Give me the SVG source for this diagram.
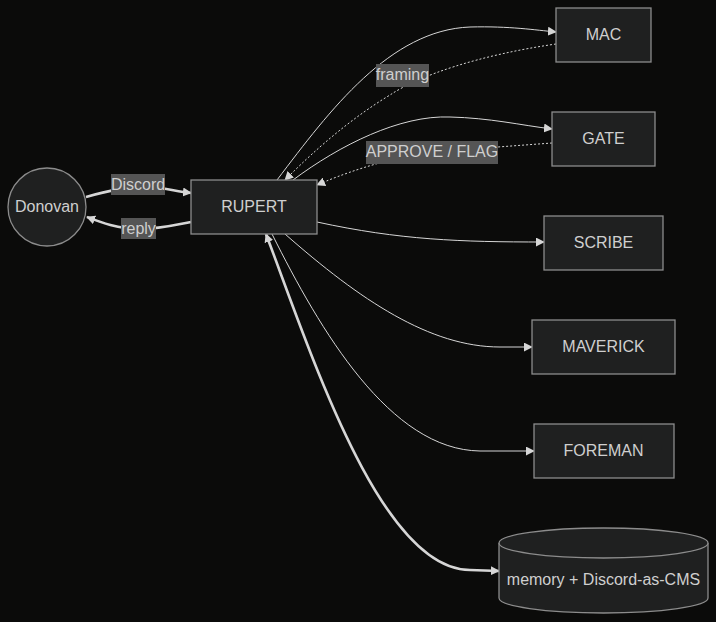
<svg xmlns="http://www.w3.org/2000/svg" width="716" height="622" viewBox="0 0 716 622">
<style>
.node{fill:#1f2020;stroke:#8c8c8c;stroke-width:1.3}
.t{font-family:"Liberation Sans",Arial,sans-serif;font-size:16px;fill:#cfcfcf;text-anchor:middle;dominant-baseline:central}
.e{fill:none;stroke:#d6d6d6;stroke-width:1}
.thick{stroke-width:2.6}
.dot{stroke-dasharray:2 2}
.lb{fill:#555555}
</style>
<defs>
<marker id="ah" viewBox="0 0 10 10" refX="9" refY="5" markerWidth="9" markerHeight="9" markerUnits="userSpaceOnUse" orient="auto-start-reverse">
<path d="M0,0 L10,5 L0,10 z" fill="#d6d6d6"/>
</marker>
</defs>
<rect width="716" height="622" fill="#0b0b0a"/>
<g id="connectors">
<path class="e thick" d="M86,197 C110,190 130,186 150,187 C165,188 175,191 191,193" marker-end="url(#ah)"/>
<path class="e thick" d="M191,222 C175,225 160,229 140,229 C118,229 100,222 87,217" marker-end="url(#ah)"/>
<path class="e" d="M277,180 C330,110 390,30 470,27 C510,26 535,30 556,32" marker-end="url(#ah)"/>
<path class="e dot" d="M556,44 C480,55 420,75 390,95 C340,125 300,165 285,180" marker-end="url(#ah)"/>
<path class="e" d="M293,180 C340,145 400,115 450,117 C490,118 520,125 552,129" marker-end="url(#ah)"/>
<path class="e dot" d="M552,143 L430,152 C380,160 340,175 317,185" marker-end="url(#ah)"/>
<path class="e" d="M317,222 C400,240 460,242 544,242" marker-end="url(#ah)"/>
<path class="e" d="M285,234 C360,300 430,347 500,347 L532,347" marker-end="url(#ah)"/>
<path class="e" d="M272,234 C320,330 390,450 480,451 L534,451" marker-end="url(#ah)"/>
<path class="e thick" d="M266,234 C310,350 380,570 470,570 L499,571" marker-start="url(#ah)" marker-end="url(#ah)"/>
<rect class="lb" x="111" y="174" width="54" height="21"/>
<text class="t" x="138" y="184">Discord</text>
<rect class="lb" x="121" y="218" width="35" height="21"/>
<text class="t" x="138.5" y="228">reply</text>
<rect class="lb" x="376" y="64" width="53" height="23"/>
<text class="t" x="402.5" y="74.5">framing</text>
<rect class="lb" x="366" y="141" width="132" height="23"/>
<text class="t" x="432" y="151.5">APPROVE / FLAG</text>
</g>
<g id="Donovan">
<circle class="node" cx="47" cy="207" r="39"/>
<text class="t" x="47" y="206">Donovan</text>
</g>
<g id="RUPERT">
<rect class="node" x="191" y="180" width="126" height="54"/>
<text class="t" x="254" y="206">RUPERT</text>
</g>
<g id="MAC">
<rect class="node" x="556" y="8" width="95" height="54"/>
<text class="t" x="603.5" y="34">MAC</text>
</g>
<g id="GATE">
<rect class="node" x="552" y="112" width="103" height="54"/>
<text class="t" x="603.5" y="138">GATE</text>
</g>
<g id="SCRIBE">
<rect class="node" x="544" y="216" width="119" height="54"/>
<text class="t" x="603.5" y="242">SCRIBE</text>
</g>
<g id="MAVERICK">
<rect class="node" x="532" y="320" width="143" height="54"/>
<text class="t" x="603.5" y="346">MAVERICK</text>
</g>
<g id="FOREMAN">
<rect class="node" x="534" y="424" width="140" height="54"/>
<text class="t" x="603.5" y="450">FOREMAN</text>
</g>
<g id="memory">
<path class="node" d="M499,543 A104.5,15 0 0 1 708,543 L708,598 A104.5,15 0 0 1 499,598 Z"/>
<path class="node" fill="none" d="M499,543 A104.5,15 0 0 0 708,543"/>
<text class="t" x="603.5" y="579">memory + Discord-as-CMS</text>
</g>
</svg>
